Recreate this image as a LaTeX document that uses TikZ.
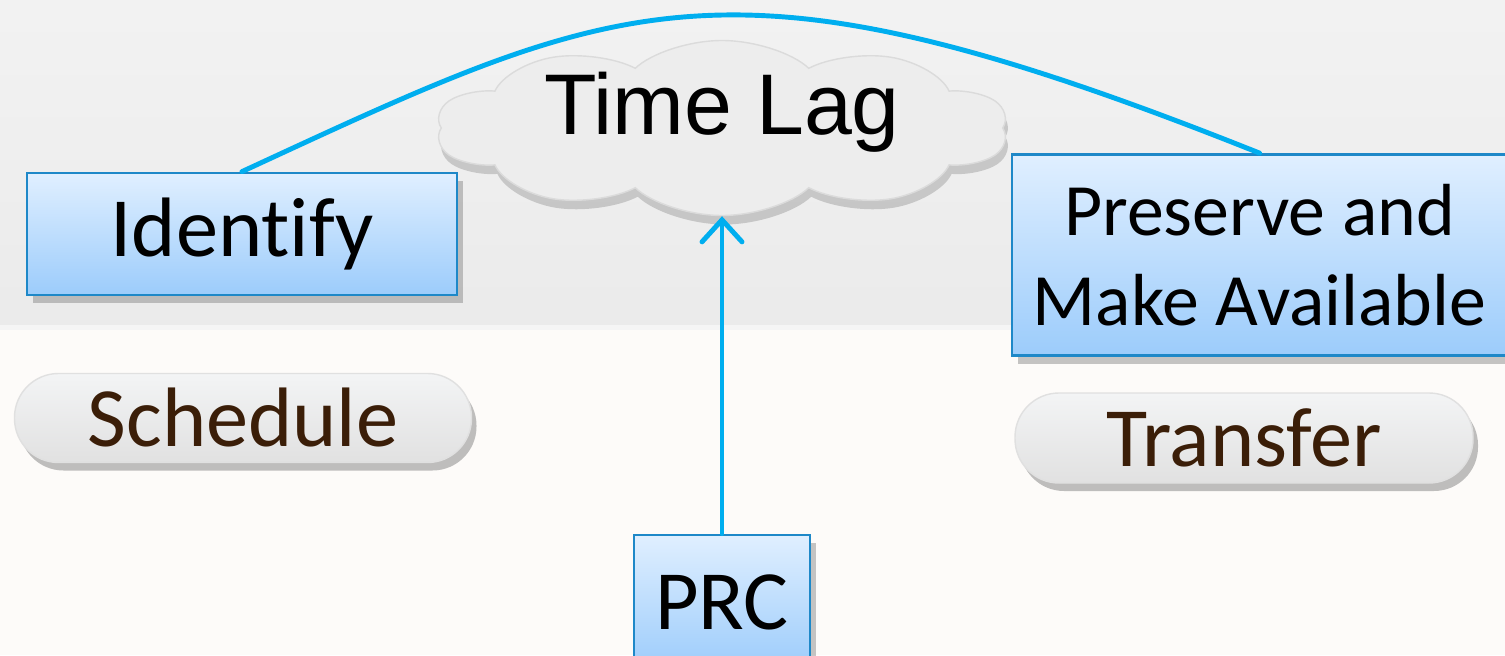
\documentclass[tikz,border=0pt]{standalone}
\usepackage{fontspec}
\setmainfont{Carlito}[RawFeature=-liga]
\newfontfamily\arialfont{Liberation Sans}
\usetikzlibrary{arrows.meta,shapes.symbols,shadows}
\definecolor{lagblue}{HTML}{00AEEF}
\definecolor{boxtop}{HTML}{E0EFFF}
\definecolor{boxbot}{HTML}{9CCCFB}
\definecolor{boxline}{HTML}{1E88C8}
\definecolor{pilltop}{HTML}{F3F4F5}
\definecolor{pillbot}{HTML}{E1E1E1}
\definecolor{brownish}{HTML}{3B1E08}
\begin{document}
\begin{tikzpicture}
	\tikzset{b/.style={draw=boxline,line width=0.8pt,rectangle,top color=boxtop,bottom color=boxbot,drop shadow={shadow xshift=0.6mm,shadow yshift=-0.8mm,opacity=0.45},font=\fontsize{24}{27}\selectfont,align=center,inner sep=0pt},
		p/.style={draw=black!12,rounded corners=4.4mm,top color=pilltop,bottom color=pillbot,text=brownish,drop shadow={shadow xshift=0.5mm,shadow yshift=-0.8mm,opacity=0.5},font=\fontsize{24}{27}\selectfont,inner sep=0pt},
		c/.style={lagblue,line width=1.4pt,line cap=round}}
	%% nen
	\fill[top color=black!5,bottom color=black!8](0,3.30)rectangle(15.05,6.55);
	\fill[black!4](0,3.25)rectangle(15.05,3.30);
	\fill[white!97!brown](0,0)rectangle(15.05,3.25);
	\useasboundingbox(0,0)rectangle(15.05,6.55);
	%% cac node
	\node[cloud,cloud puffs=10,cloud puff arc=120,cloud ignores aspect,shape border rotate=18,minimum width=3.19cm,minimum height=1.75cm,xscale=1.8,transform shape,draw=black!14,fill=black!7,drop shadow={shadow xshift=0.25mm,shadow yshift=-0.9mm,opacity=0.35},inner sep=0pt](lag)at(7.22,5.27){};
	\node[font=\arialfont\fontsize{24.5}{28}\selectfont,inner sep=0pt](lagtext)at([yshift=1.6mm]lag.center){Time Lag};
	\node[b,minimum width=4.30cm,minimum height=1.22cm](id)at(2.42,4.21){Identify};
	\node[b,minimum width=4.95cm,minimum height=2.01cm,font=\fontsize{21}{25.5}\selectfont](pm)at(12.595,4.00){Preserve and\\Make Available};
	\node[b,minimum width=1.76cm,minimum height=1.35cm](prc)at(7.22,0.525){PRC};
	\node[p,minimum width=4.57cm,minimum height=0.89cm](sch)at(2.43,2.37){Schedule};
	\node[p,minimum width=4.58cm,minimum height=0.90cm](tr)at(12.44,2.17){Transfer};
	%% duong noi
	\draw[c](id.north)..controls(6.24,6.60)and(7.26,7.15)..(pm.north);
	\draw[c,-{Straight Barb[length=2.2mm,width=4mm,line cap=round]}](prc.north)--(lag.south);
\end{tikzpicture}
\end{document}
